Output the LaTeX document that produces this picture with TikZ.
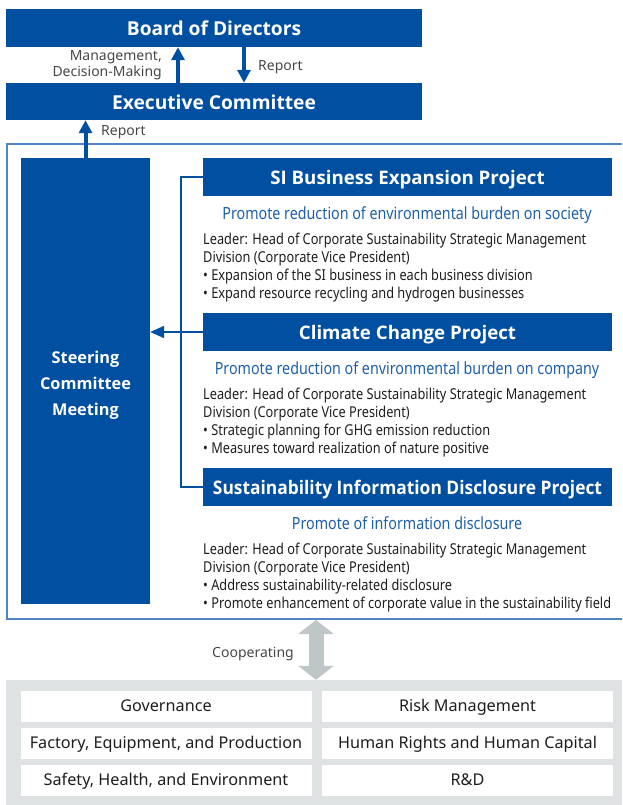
\documentclass[tikz,border=0pt]{standalone}
\usepackage{fontspec}
\setmainfont{Noto Sans}
\newfontfamily\cond[FakeStretch=0.85]{Noto Sans}
\newfontfamily\hdrfont{Open Sans}
\newfontfamily\hdrcond[FakeStretch=0.93]{Open Sans}
\usetikzlibrary{arrows.meta}
\definecolor{dblue}{RGB}{0,79,160}
\definecolor{fblue}{RGB}{80,134,198}
\definecolor{sblue}{RGB}{30,95,170}
\definecolor{txt}{RGB}{30,30,30}
\definecolor{lbl}{RGB}{70,70,70}
\definecolor{gboxc}{RGB}{223,226,227}
\definecolor{garrowc}{RGB}{190,198,200}
\tikzset{
  hdr/.style={fill=dblue, text=white, inner sep=0pt, font=\hdrfont\bfseries\fontsize{18.7}{20}\selectfont, text height=15pt, text depth=0pt},
  top/.style={hdr, font=\hdrfont\bfseries\fontsize{19.2}{20}\selectfont, text height=15.5pt},
  body/.style={anchor=base west, align=left, inner sep=0pt, text=txt, font=\cond\fontsize{15}{18}\selectfont},
  subt/.style={anchor=base, inner sep=0pt, text=sblue, font=\cond\fontsize{16.8}{20}\selectfont},
  lab/.style={inner sep=0pt, text=lbl, font=\fontsize{14}{16}\selectfont},
  barrow/.style={draw=dblue, line width=4pt, -{Triangle[width=13pt,length=13pt]}},
  conn/.style={draw=dblue, line width=2pt},
  cell/.style={fill=white, inner sep=0pt, minimum width=291pt, minimum height=31pt, text=txt, font=\fontsize{16.2}{18}\selectfont, text height=12.5pt, text depth=3pt},
}
\begin{document}
\begin{tikzpicture}[x=1pt, y=-1pt]
\useasboundingbox (0,0) rectangle (622,805);
% top boxes
\node[top, minimum width=416pt, minimum height=38pt] (board) at (214,28) {Board of Directors};
\node[top, minimum width=416pt, minimum height=37pt] (exec) at (214,101.5) {Executive Committee};
\draw[barrow] ([xshift=-36pt]exec.north) -- ([xshift=-36pt]board.south);
\draw[barrow] ([xshift=30pt]board.south) -- ([xshift=30pt]exec.north);
\node[lab, anchor=base east, align=right] (mdm) at (162,77) {Management,\\Decision-Making};
\node[lab, anchor=base west] (rep1) at (258,71) {Report};
% frame
\draw[fblue, line width=1.6pt] (622,144) -- (7,144) -- (7,619) -- (622,619);
% steering
\node[fill=dblue, text=white, inner sep=0pt, minimum width=129pt, minimum height=446pt] (steer) at (85.5,381) {};
\node[text=white, inner sep=0pt, align=center, font=\hdrfont\bfseries\fontsize{16.3}{26}\selectfont] (steert) at (85.5,385) {Steering\\Committee\\Meeting};
\draw[barrow] (steer.north) -- (steer.north |- exec.south);
\node[lab, anchor=base west] (rep2) at (101,136) {Report};
% projects
\node[hdr, minimum width=409pt, minimum height=38pt] (si) at (407.5,177) {SI Business Expansion Project};
\node[hdr, minimum width=409pt, minimum height=38pt] (cc) at (407.5,332) {Climate Change Project};
\node[hdr, minimum width=409pt, minimum height=38pt, font=\hdrcond\bfseries\fontsize{18.7}{20}\selectfont] (sd) at (407.5,487) {Sustainability Information Disclosure Project};
\node[subt] (sis) at (407,219) {Promote reduction of environmental burden on society};
\node[subt] (ccs) at (407,374) {Promote reduction of environmental burden on company};
\node[subt] (sds) at (407,529) {Promote of information disclosure};
\node[body] (sib) at (203,298) {Leader: Head of Corporate Sustainability Strategic Management\\Division (Corporate Vice President)\\• Expansion of the SI business in each business division\\• Expand resource recycling and hydrogen businesses};
\node[body] (ccb) at (203,453) {Leader: Head of Corporate Sustainability Strategic Management\\Division (Corporate Vice President)\\• Strategic planning for GHG emission reduction\\• Measures toward realization of nature positive};
\node[body] (sdb) at (203,608) {Leader: Head of Corporate Sustainability Strategic Management\\Division (Corporate Vice President)\\• Address sustainability-related disclosure\\• Promote enhancement of corporate value in the sustainability field};
% connectors
\draw[conn] (si.west) -- ++(-22pt,0) |- (sd.west);
\draw[conn, -{Triangle[width=12pt,length=14pt]}] (cc.west) -- (cc.west -| steer.east);
% bottom
\node[fill=gboxc, inner sep=0pt, minimum width=616pt, minimum height=125pt] (gbox) at (314,742.5) {};
\coordinate (fb) at (316,620);
\draw[draw=garrowc, line width=15pt, {Triangle[width=35pt,length=14pt]}-{Triangle[width=35pt,length=14pt]}] (fb) -- (fb |- gbox.north);
\node[lab, anchor=base east] (coop) at (294,657) {Cooperating};
\node[cell] (c1) at (166,706.5) {Governance};
\node[cell] (c2) at (467.5,706.5) {Risk Management};
\node[cell] (c3) at (166,743.5) {Factory, Equipment, and Production};
\node[cell] (c4) at (467.5,743.5) {Human Rights and Human Capital};
\node[cell] (c5) at (166,780.5) {Safety, Health, and Environment};
\node[cell] (c6) at (467.5,780.5) {R\&D};
\end{tikzpicture}
\end{document}
